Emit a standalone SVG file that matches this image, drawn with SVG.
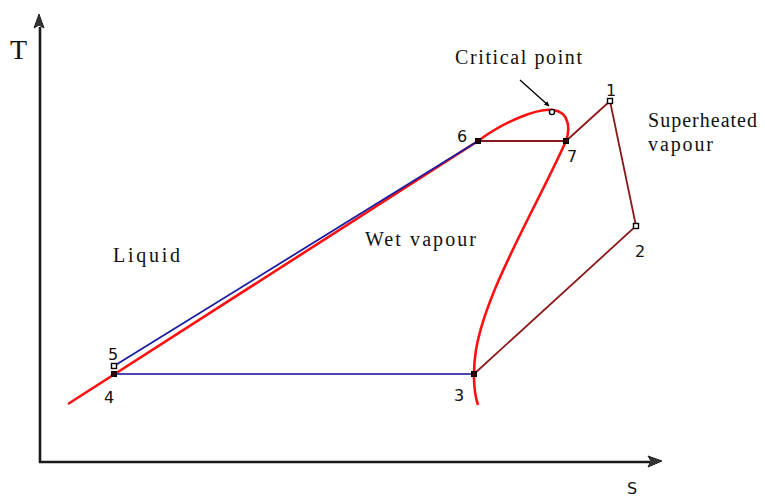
<svg xmlns="http://www.w3.org/2000/svg" width="765" height="498" viewBox="0 0 765 498">
<style>
.lbl{font-family:"Liberation Serif","Times New Roman",serif;fill:#111}
.num{font-family:"DejaVu Sans","Liberation Sans",sans-serif;font-size:16px;fill:#111}
.axis{stroke:#1a1a1a;stroke-width:2.6;fill:none}
.pt{fill:#fff;stroke:#000;stroke-width:1.4}
</style>
<defs>
<marker id="ah" viewBox="0 0 10 10" refX="9" refY="5" markerWidth="5" markerHeight="5" orient="auto" markerUnits="userSpaceOnUse">
<path d="M0,0 L10,5 L0,10 z" fill="#000"/>
</marker>
</defs>
<rect width="765" height="498" fill="#fff"/>
<g id="axes">
<path class="axis" d="M40,27 V462 H650"/>
<path d="M34,28 L39,14 L44,28 L39,25 z" fill="#333" stroke="#222" stroke-width="1"/>
<path d="M648,456 L662,461 L648,467 L651,461 z" fill="#333" stroke="#222" stroke-width="1"/>
<text class="lbl" x="10" y="59" font-size="28">T</text>
<text class="num" x="627" y="494" font-size="18">S</text>
</g>
<g id="connectors" fill="none">
<path id="saturation" d="M68,404 L478,141 C505,121 538,108 553,110 C570,112 570,130 566,141 C536,208 486,290 476,350 C473,368 473,390 478,405" stroke="#ff1010" stroke-width="2.6"/>
<path d="M114,366 L478,141" stroke="#1c1ca0" stroke-width="1.8"/>
<path d="M114,374 L474,374" stroke="#4848b0" stroke-width="2"/>
<path d="M478,141 L566,141 L610,101 L636,226 L474,374" stroke="#8a1a1a" stroke-width="1.8"/>
<path d="M520,80 L549,106" stroke="#000" stroke-width="1.3" marker-end="url(#ah)"/>
</g>
<g id="p1"><rect class="pt" x="607.5" y="98.5" width="5" height="5"/><text class="num" x="606" y="96">1</text></g>
<g id="p2"><rect class="pt" x="633.5" y="223.5" width="5" height="5"/><text class="num" x="635" y="257">2</text></g>
<g id="p3"><rect x="471.5" y="371.5" width="5" height="5" fill="#300" stroke="#000"/><text class="num" x="454" y="401">3</text></g>
<g id="p4"><rect x="111.5" y="371.5" width="5" height="5" fill="#300" stroke="#000"/><text class="num" x="104" y="403">4</text></g>
<g id="p5"><rect class="pt" x="111.5" y="363.5" width="5" height="5"/><text class="num" x="108" y="360">5</text></g>
<g id="p6"><rect x="475.5" y="138.5" width="5" height="5" fill="#300" stroke="#000"/><text class="num" x="457" y="142">6</text></g>
<g id="p7"><rect x="563.5" y="138.5" width="5" height="5" fill="#300" stroke="#000"/><text class="num" x="567" y="162">7</text></g>
<g id="critical"><circle class="pt" cx="552" cy="112" r="2.6"/><text class="lbl" x="455" y="64" font-size="20" textLength="127" lengthAdjust="spacing">Critical point</text></g>
<g id="superheated"><text class="lbl" x="648" y="127" font-size="20" textLength="109" lengthAdjust="spacing">Superheated</text><text class="lbl" x="648" y="151" font-size="20" textLength="65" lengthAdjust="spacing">vapour</text></g>
<g id="liquid"><text class="lbl" x="113" y="262" font-size="20" textLength="67" lengthAdjust="spacing">Liquid</text></g>
<g id="wet"><text class="lbl" x="365" y="246" font-size="20" textLength="111" lengthAdjust="spacing">Wet vapour</text></g>
</svg>
